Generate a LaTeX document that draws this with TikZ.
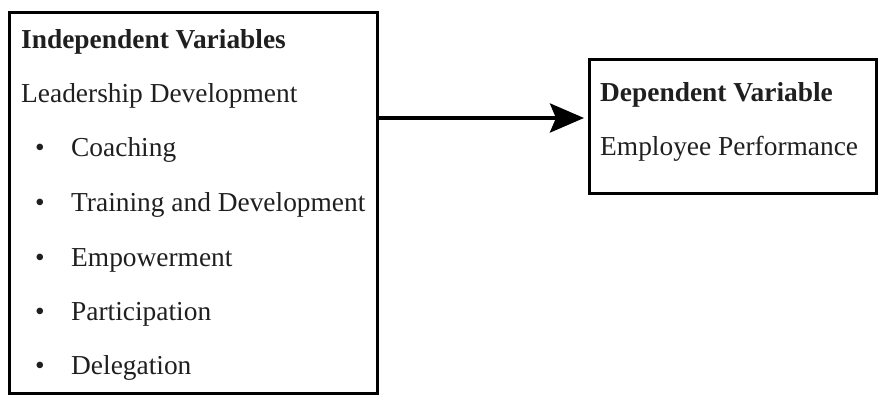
\documentclass[tikz,border=0pt]{standalone}
\usepackage{fontspec}
\setmainfont{Liberation Serif}
\usetikzlibrary{arrows.meta}
\tikzset{
  box/.style={draw=black, line width=3pt, rectangle, inner sep=0pt, anchor=north west},
  txt/.style={anchor=base west, inner sep=0pt, text=black!88, font=\fontsize{27.4}{30}\selectfont},
  head/.style={txt, font=\fontsize{27.4}{30}\selectfont\bfseries},
  bul/.style={anchor=base, inner sep=0pt, text=black!88, font=\fontsize{27.4}{30}\selectfont},
  conn/.style={draw=black, line width=4pt, -{Stealth[length=34pt, width=29pt, inset=6pt]}}
}
\begin{document}
\begin{tikzpicture}[x=1pt, y=-1pt]
\useasboundingbox (0,0) rectangle (880,395);
\node[box, minimum width=368pt, minimum height=381pt] (L) at (8,11) {};
\node[box, minimum width=287pt, minimum height=134pt] (R) at (588,58) {};
% left box text
\node[head] (t1) at (21,49) {Independent Variables};
\node[txt] (t2) at (21,103) {Leadership Development};
\node[bul] (b1) at (40,157) {•};
\node[txt] (i1) at (71,157) {Coaching};
\node[bul] (b2) at (40,212) {•};
\node[txt] (i2) at (71,212) {Training and Development};
\node[bul] (b3) at (40,266) {•};
\node[txt] (i3) at (71,266) {Empowerment};
\node[bul] (b4) at (40,320) {•};
\node[txt] (i4) at (71,320) {Participation};
\node[bul] (b5) at (40,374) {•};
\node[txt] (i5) at (71,374) {Delegation};
% right box text
\node[head] (d1) at (600,102) {Dependent Variable};
\node[txt] (d2) at (600,156) {Employee Performance};
% arrow
\coordinate (s) at (L.east |- 0,118);
\coordinate (e) at (R.west |- 0,118);
\draw[conn] (s) -- ([xshift=-4pt]e);
\end{tikzpicture}
\end{document}
